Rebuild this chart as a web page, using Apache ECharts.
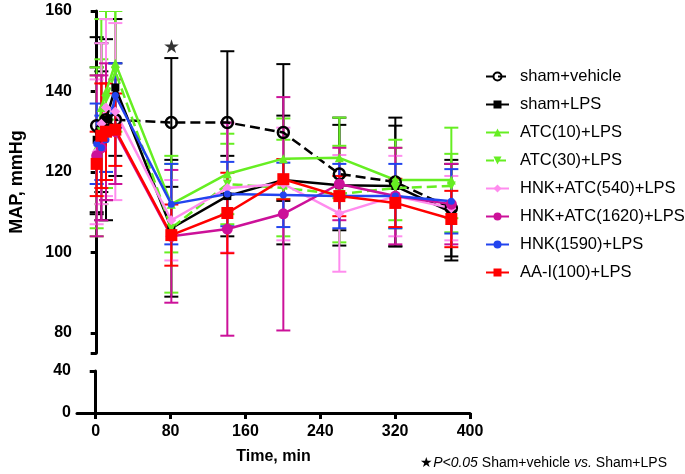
<!DOCTYPE html>
<html>
<head>
<meta charset="utf-8">
<title>MAP</title>
<script src="https://cdn.jsdelivr.net/npm/echarts@6/dist/echarts.min.js"></script>
</head>
<body style="margin:0">
<div id="main" style="width:685px;height:474px;"></div>
<script type="text/javascript">
// time points (min)
var times = [0, 5, 10, 20, 80, 140, 200, 260, 320, 380];
var yTicksTop = [75, 80, 100, 120, 140, 160];
var yLabelsTop = [80, 100, 120, 140, 160];
var yTicksBottom = [0, 40];
var xTicks = [0, 80, 160, 240, 320, 400];

// means and error (SD) per group
var shamVehicle    = [131.5, 130, 133, 133, 132.3, 132.3, 129.8, 119.5, 117.5, 111];
var shamVehicleErr = [22, 15, 20, 14, 16, 17.7, 17, 14, 16, 12];
var shamLPS        = [128, 130, 133, 141, 106, 114, 118, 116.7, 116.5, 110];
var shamLPSErr     = [18, 22, 25, 17, 17, 10, 16, 15, 15, 12];
var atc10          = [126, 136, 140, 147, 112, 119.5, 123.3, 123.5, 118, 118];
var atc10Err       = [20, 22, 20, 14, 12, 10, 10, 10, 10, 13];
var atc30          = [124, 130, 138, 145, 106, 117, 116, 114.5, 116, 116.5];
var atc30Err       = [20, 18, 22, 15, 16, 10, 12, 12, 10, 8];
var hnk540         = [125, 132, 136, 135, 108, 116, 117, 109.7, 114, 111];
var hnk540Err      = [18, 20, 22, 22, 10, 16, 14, 14.5, 10, 8];
var hnk1620        = [124, 126, 130, 130, 104, 105.8, 109.6, 117, 114, 112];
var hnk1620Err     = [20, 18, 17, 13, 16.5, 26.5, 29, 9, 12, 10];
var hnk1590        = [127, 126, 128, 139, 112, 114.5, 114.3, 114, 114, 112.7];
var hnk1590Err     = [10, 8, 8, 8, 10, 8, 8, 8, 8, 8];
var aai            = [122, 129, 130, 130.5, 104.3, 109.8, 118.2, 114, 112.3, 108.3];
var aaiErr         = [8, 13, 12, 9, 7.6, 10, 5, 5, 6, 7];

// significance mark
var starPoint = [80, 150.8];

var myChart = echarts.init(document.getElementById('main'));

var groups = [
  {name: 'sham+vehicle', v: shamVehicle, e: shamVehicleErr, color: '#000000', symbol: 'circle', size: 11, dash: 'dashed', open: true},
  {name: 'sham+LPS', v: shamLPS, e: shamLPSErr, color: '#000000', symbol: 'rect', size: 8},
  {name: 'ATC(10)+LPS', v: atc10, e: atc10Err, color: '#66ee22', symbol: 'triangle', size: 9},
  {name: 'ATC(30)+LPS', v: atc30, e: atc30Err, color: '#66ee22', symbol: 'triangle', size: 9, rotate: 180, dash: 'dashed'},
  {name: 'HNK+ATC(540)+LPS', v: hnk540, e: hnk540Err, color: '#ff8cee', symbol: 'diamond', size: 10},
  {name: 'HNK+ATC(1620)+LPS', v: hnk1620, e: hnk1620Err, color: '#cc1199', symbol: 'circle', size: 11},
  {name: 'HNK(1590)+LPS', v: hnk1590, e: hnk1590Err, color: '#2244ee', symbol: 'circle', size: 7},
  {name: 'AA-I(100)+LPS', v: aai, e: aaiErr, color: '#ff0000', symbol: 'rect', size: 12}
];

function errorBars(color) {
  return function (params, api) {
    var x = api.value(0), lo = api.value(1), hi = api.value(2);
    var p1 = api.coord([x, hi]), p2 = api.coord([x, lo]);
    var w = 7;
    var st = {stroke: color, lineWidth: 2};
    return {
      type: 'group',
      children: [
        {type: 'line', shape: {x1: p1[0], y1: p1[1], x2: p2[0], y2: p2[1]}, style: st},
        {type: 'line', shape: {x1: p1[0] - w, y1: p1[1], x2: p1[0] + w, y2: p1[1]}, style: st},
        {type: 'line', shape: {x1: p2[0] - w, y1: p2[1], x2: p2[0] + w, y2: p2[1]}, style: st}
      ]
    };
  };
}

var series = [];
groups.forEach(function (g) {
  var bars = times.map(function (t, i) { return [t, g.v[i] - g.e[i], g.v[i] + g.e[i]]; });
  series.push({
    type: 'custom',
    xAxisIndex: 0, yAxisIndex: 0,
    renderItem: errorBars(g.color),
    data: bars,
    clip: true,
    silent: true,
    z: 2
  });
});
groups.forEach(function (g) {
  series.push({
    name: g.name,
    type: 'line',
    xAxisIndex: 0, yAxisIndex: 0,
    data: times.map(function (t, i) { return [t, g.v[i]]; }),
    symbol: g.symbol,
    symbolSize: g.size,
    symbolRotate: g.rotate || 0,
    lineStyle: {color: g.color, width: 2.5, type: g.dash || 'solid'},
    itemStyle: g.open ? {color: 'rgba(255,255,255,0)', borderColor: g.color, borderWidth: 2.5} : {color: g.color},
    z: 3
  });
});
series.push({
  type: 'scatter',
  xAxisIndex: 0, yAxisIndex: 0,
  data: [starPoint],
  symbolSize: 0,
  label: {show: true, formatter: '\u2605', fontSize: 19, color: '#000', position: 'inside'},
  silent: true
});

var axisFont = {fontFamily: 'Liberation Sans', fontWeight: 'bold', fontSize: 16, color: '#000'};
var lineSt = {lineStyle: {color: '#000', width: 3}};

var option = {
  animation: false,
  backgroundColor: '#ffffff',
  grid: [
    {left: 77, top: 11, width: 393, height: 342},
    {left: 77, top: 371, width: 393, height: 42}
  ],
  legend: {
    orient: 'vertical',
    left: 480,
    top: 63,
    itemWidth: 23,
    itemHeight: 10,
    itemGap: 11,
    data: groups.map(function (g) { return g.name; }),
    textStyle: {fontFamily: 'Liberation Sans', fontSize: 16.5, color: '#000', padding: [0, 0, 0, 6]}
  },
  xAxis: [
    {gridIndex: 0, type: 'value', min: -20, max: 400, show: false},
    {
      gridIndex: 1, type: 'value', min: -20, max: 400,
      name: 'Time, min', nameLocation: 'middle', nameGap: 36,
      nameTextStyle: {fontFamily: 'Liberation Sans', fontWeight: 'bold', fontSize: 16, color: '#000'},
      axisLine: lineSt,
      axisTick: {length: 6, lineStyle: {color: '#000', width: 3}, customValues: xTicks},
      axisLabel: Object.assign({margin: 11, customValues: xTicks}, axisFont),
      splitLine: {show: false}
    }
  ],
  yAxis: [
    {
      gridIndex: 0, type: 'value', min: 75, max: 160,
      name: 'MAP, mmHg', nameLocation: 'middle', nameGap: 52,
      nameTextStyle: {fontFamily: 'Liberation Sans', fontWeight: 'bold', fontSize: 18, color: '#000'},
      axisLine: {show: true, lineStyle: {color: '#000', width: 3}},
      axisTick: {show: true, length: 6, lineStyle: {color: '#000', width: 3}, customValues: yTicksTop},
      axisLabel: Object.assign({margin: 6, customValues: yLabelsTop}, axisFont),
      splitLine: {show: false}
    },
    {
      gridIndex: 1, type: 'value', min: 0, max: 40,
      axisLine: {show: true, lineStyle: {color: '#000', width: 3}},
      axisTick: {show: true, length: 6, lineStyle: {color: '#000', width: 3}, customValues: yTicksBottom},
      axisLabel: Object.assign({margin: 6, customValues: yTicksBottom}, axisFont),
      splitLine: {show: false}
    }
  ],
  graphic: [{
    type: 'text',
    right: 18,
    top: 456,
    style: {
      text: '\u2605{i|P<0.05} Sham+vehicle {i|vs.} Sham+LPS',
      fontFamily: 'Liberation Sans',
      fontSize: 14,
      fill: '#000',
      rich: {i: {fontStyle: 'italic', fontFamily: 'Liberation Sans', fontSize: 14}}
    }
  }],
  series: series
};

myChart.setOption(option);
</script>
</body>
</html>
